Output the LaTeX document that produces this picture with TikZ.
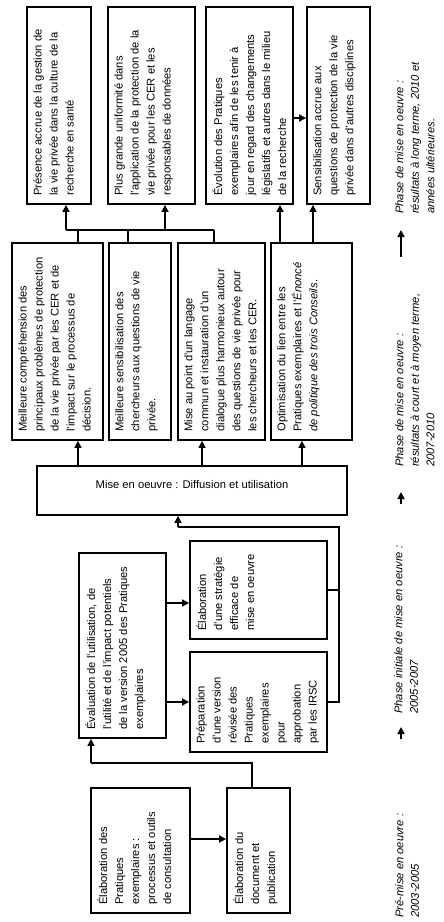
\documentclass[tikz,border=0pt]{standalone}
\usepackage{fontspec}
\setmainfont{Liberation Sans}
\usetikzlibrary{arrows.meta,fit,calc}
\begin{document}
\begin{tikzpicture}[x=1pt,y=-1pt,
  box/.style={draw,line width=1.8pt,inner sep=0pt},
  txt/.style={rotate=90,anchor=north west,align=left,inner sep=0pt,font=\fontsize{11.2}{16}\selectfont},
  lbl/.style={rotate=90,anchor=north west,align=left,inner sep=0pt,font=\fontsize{11.2}{15.5}\selectfont\itshape},
  conn/.style={line width=1.6pt},
  arr/.style={conn,-{Triangle[length=7pt,width=7pt]}},
  tpos/.style={xshift=7pt,yshift=9pt}
]
\useasboundingbox (0,0) rectangle (444,922);

% row 1
\node[box,fit={(27,7) (91,204)}] (A) {};
\node[box,fit={(108,7) (195,204)}] (B) {};
\node[box,fit={(206,7) (293,204)}] (C) {};
\node[box,fit={(307,7) (370,204)}] (D) {};
% row 2
\node[box,fit={(12,243) (103,440)}] (E) {};
\node[box,fit={(109,243) (171,440)}] (F) {};
\node[box,fit={(178,243) (265,440)}] (G) {};
\node[box,fit={(271,243) (352,440)}] (H) {};
% mise en oeuvre
\node[box,fit={(37,466) (347,515)}] (M) {};
% lower
\node[box,fit={(79,553) (166,738)}] (V) {};
\node[box,fit={(190,541) (327,639)}] (S) {};
\node[box,fit={(190,652) (327,752)}] (P) {};
\node[box,fit={(91,788) (190,913)}] (P1) {};
\node[box,fit={(227,788) (290,913)}] (P2) {};

% texts
\node[txt] (At) at ([tpos]A.south west) {Présence accrue de la gestion de\\la vie privée dans la culture de la\\recherche en santé};
\node[txt] (Bt) at ([tpos]B.south west) {Plus grande uniformité dans\\l'application de la protection de la\\vie privée pour les CER et les\\responsables de données};
\node[txt] (Ct) at ([tpos]C.south west) {Évolution des Pratiques\\exemplaires afin de les tenir à\\jour en regard des changements\\législatifs et autres dans le milieu\\de la recherche};
\node[txt] (Dt) at ([tpos]D.south west) {Sensibilisation accrue aux\\questions de protection de la vie\\privée dans d'autres disciplines};
\node[txt] (Et) at ([tpos]E.south west) {Meilleure compréhension des\\principaux problèmes de protection\\de la vie privée par les CER et de\\l'impact sur le processus de\\décision.};
\node[txt] (Ft) at ([tpos]F.south west) {Meilleure sensibilisation des\\chercheurs aux questions de vie\\privée.};
\node[txt] (Gt) at ([tpos]G.south west) {Mise au point d'un langage\\commun et instauration d'un\\dialogue plus harmonieux autour\\des questions de vie privée pour\\les chercheurs et les CER.};
\node[txt] (Ht) at ([tpos]H.south west) {Optimisation du lien entre les\\Pratiques exemplaires et l'\textit{Énoncé}\\\textit{de politique des trois Conseils}.};
\node[anchor=center,inner sep=0pt,font=\fontsize{11.2}{16}\selectfont] (Mt) at ([yshift=-19pt]M.north) {Mise en oeuvre : Diffusion et utilisation};
\node[txt] (Vt) at ([tpos]V.south west) {Évaluation de l'utilisation, de\\l'utilité et de l'impact potentiels\\de la version 2005 des Pratiques\\exemplaires};
\node[txt] (St) at ([tpos]S.south west) {Élaboration\\d'une stratégie\\efficace de\\mise en oeuvre};
\node[txt] (Pt) at ([tpos]P.south west) {Préparation\\d'une version\\révisée des\\Pratiques\\exemplaires\\pour\\approbation\\par les IRSC};
\node[txt] (P1t) at ([tpos]P1.south west) {Élaboration des\\Pratiques\\exemplaires :\\processus et outils\\de consultation};
\node[txt] (P2t) at ([tpos]P2.south west) {Élaboration du\\document et\\publication};

% phase labels
\node[lbl] (L4) at (395,214) {Phase de mise en oeuvre :\\résultats à long terme, 2010 et\\années ultérieures.};
\node[lbl] (L3) at (395,467) {Phase de mise en oeuvre :\\résultats à court et à moyen terme,\\2007-2010};
\node[lbl] (L2) at (394,714) {Phase initiale de mise en oeuvre :\\2005-2007};
\node[lbl] (L1) at (395,918) {Pré-mise en oeuvre :\\2003-2005};

% phase arrows
\coordinate (a3s) at (401,257); \coordinate (a3e) at (401,230);
\draw[arr] (a3s) -- (a3e);
\coordinate (a2s) at (401,504); \coordinate (a2e) at (401,492);
\draw[arr] (a2s) -- (a2e);
\coordinate (a1s) at (401,739); \coordinate (a1e) at (401,727);
\draw[arr] (a1s) -- (a1e);

% connectors row2 -> row1
\coordinate (jl) at (66,230);
\coordinate (jr) at (214,230);
\draw[conn] (78,0 |- E.north) -- (78,230);
\draw[conn] (128,0 |- F.north) -- (128,230);
\draw[conn] (jr |- G.north) -- (jr);
\draw[conn] (jl) -- (jr);
\draw[arr] (jl) -- (jl |- A.south);
\draw[arr] (165,230) -- (165,0 |- B.south);
\draw[arr] (280,0 |- H.north) -- (280,0 |- C.south);
\draw[arr] (313,0 |- H.north) -- (313,0 |- D.south);
\draw[arr] (C.east |- 0,118) -- (D.west |- 0,118);

% mise -> row2
\draw[arr] (78,0 |- M.north) -- (78,0 |- E.south);
\draw[arr] (202,0 |- M.north) -- (202,0 |- G.south);
\draw[arr] (302,0 |- M.north) -- (302,0 |- H.south);

% lower -> mise
\coordinate (k1) at (339,527);
\coordinate (k2) at (178,527);
\draw[conn] (S.east |- 0,590) -- (339,590);
\draw[conn] (P.east |- 0,702) -- (339,702) -- (k1) -- (k2);
\draw[arr] (k2) -- (k2 |- M.south);

% evaluation -> S, P
\draw[arr] (V.east |- 0,603) -- (S.west |- 0,603);
\draw[arr] (V.east |- 0,702) -- (P.west |- 0,702);

% P1 -> P2, P2 -> V
\draw[arr] (P1.east |- 0,839) -- (P2.west |- 0,839);
\coordinate (q1) at (252,763);
\coordinate (q2) at (91,763);
\draw[conn] (q1 |- P2.north) -- (q1) -- (q2);
\draw[arr] (q2) -- (q2 |- V.south);
\end{tikzpicture}
\end{document}
